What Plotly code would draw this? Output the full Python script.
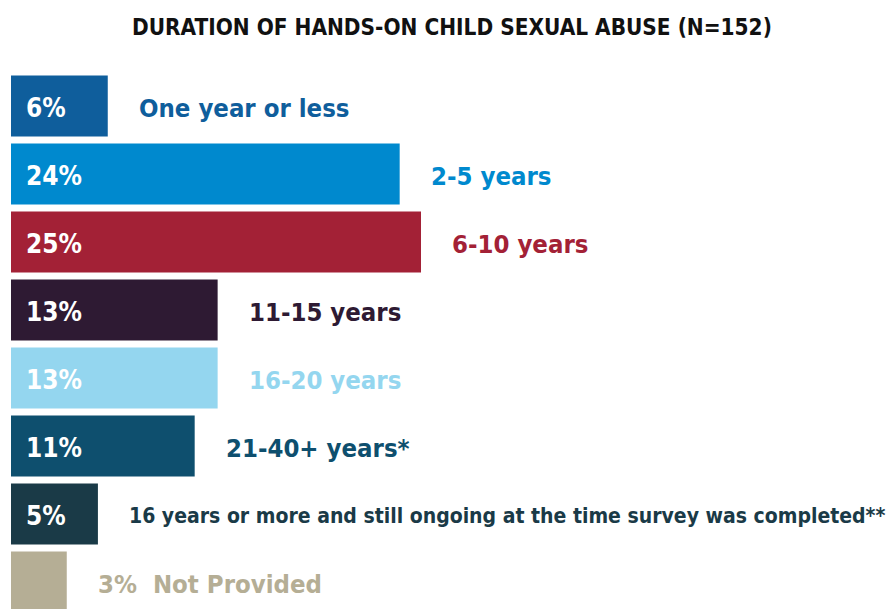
import plotly.graph_objects as go

# ---- data (bar lengths; printed labels are rounded) ----
categories = [
    "One year or less",
    "2-5 years",
    "6-10 years",
    "11-15 years",
    "16-20 years",
    "21-40+ years*",
    "16 years or more and still ongoing at the time survey was completed**",
    "Not Provided",
]
percents = [5.9, 23.7, 25.0, 12.6, 12.6, 11.2, 5.3, 3.4]
bar_colors = ["#0F5E9C", "#0089CE", "#A32136", "#2E1A33", "#94D6EF", "#0E4F6E", "#1A3A47", "#B5AE95"]
title_text = "DURATION OF HANDS-ON CHILD SEXUAL ABUSE (N=152)"

# ---- layout constants ----
W, H = 886, 609
LEFT, TOP = 11, 72
PITCH = 68          # px per category band
BAR_PX = 61         # bar thickness in px
PX_PER_UNIT = 16.4  # px per percentage point
FONT = "DejaVu Sans Condensed, Liberation Sans Narrow, Arial Narrow, sans-serif"

n = len(categories)
ypos = list(range(n))
plot_h = H - TOP
y_bottom = -0.5 + plot_h / PITCH
x_max = (W - LEFT) / PX_PER_UNIT

fig = go.Figure(
    go.Bar(
        x=percents,
        y=ypos,
        orientation="h",
        marker=dict(color=bar_colors, line=dict(width=0)),
        width=BAR_PX / PITCH,
        hoverinfo="skip",
    )
)

annotations = []
for i, (cat, p, c) in enumerate(zip(categories, percents, bar_colors)):
    small = p < 4
    pct = f"{round(p)}%"
    label_size = 25.5 if len(cat) < 30 else 21
    if not small:
        annotations.append(dict(
            x=0, y=i, xref="x", yref="y", text=pct, showarrow=False,
            xanchor="left", yanchor="middle", xshift=13, yshift=-2,
            font=dict(family=FONT, size=26, color="white", weight="bold"),
        ))
        txt = cat
    else:
        txt = f"{pct}&nbsp;&nbsp;{cat}"
    annotations.append(dict(
        x=p, y=i, xref="x", yref="y", text=txt, showarrow=False,
        xanchor="left", yanchor="middle", xshift=29, yshift=-2,
        font=dict(family=FONT, size=label_size, color=c, weight="bold"),
    ))

# title, placed in paper coords relative to the plot area
annotations.append(dict(
    x=(452 - LEFT) / (W - LEFT), y=1 + (TOP - 27) / plot_h,
    xref="paper", yref="paper", text=title_text,
    showarrow=False, xanchor="center", yanchor="middle",
    font=dict(family=FONT, size=22.4, color="#111111", weight="bold"),
))

fig.update_layout(
    width=W, height=H,
    margin=dict(l=LEFT, r=0, t=TOP, b=0, pad=0),
    paper_bgcolor="white", plot_bgcolor="white",
    showlegend=False,
    xaxis=dict(range=[0, x_max], visible=False, fixedrange=True),
    yaxis=dict(range=[y_bottom, -0.5], visible=False, fixedrange=True),
    annotations=annotations,
)

fig.write_html(
    "out.html",
    config={"displayModeBar": False},
    post_script="document.body.style.margin='0';document.body.style.overflow='hidden';",
)
